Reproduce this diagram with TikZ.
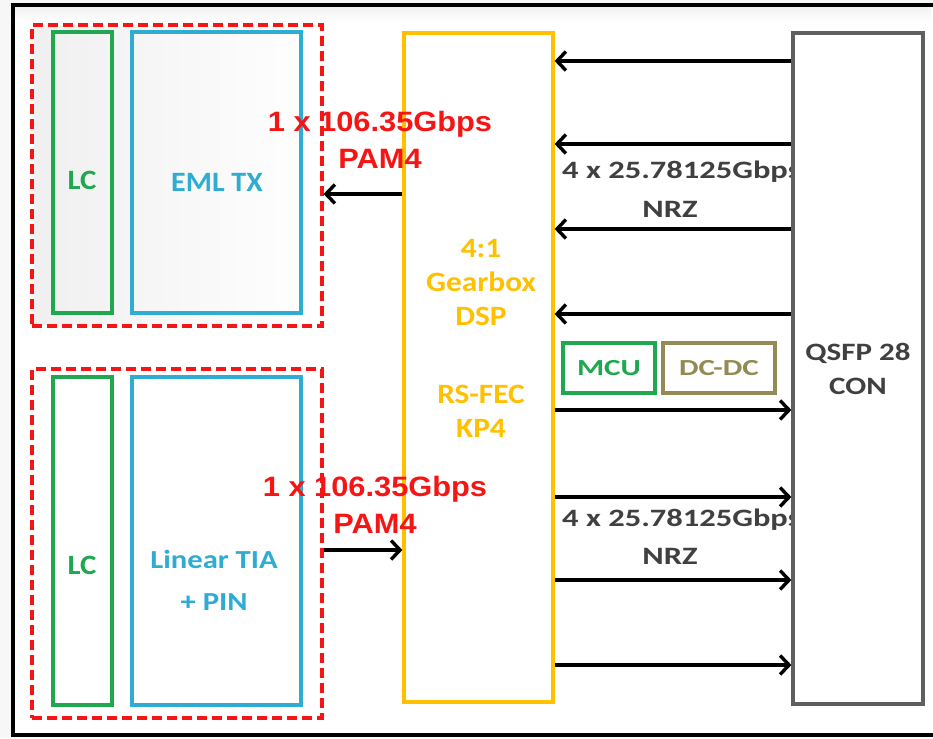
\documentclass[tikz,border=0pt]{standalone}
\usepackage{graphicx}
\usepackage{fontspec}
\setmainfont{Carlito}
\newfontfamily\pamfont{Liberation Sans}
\usetikzlibrary{arrows.meta, fit, positioning}

\definecolor{lcgreen}{HTML}{1FA84F}
\definecolor{emlblue}{HTML}{2FACD2}
\definecolor{dspgold}{HTML}{FFC000}
\definecolor{pamred}{HTML}{F51515}
\definecolor{rategray}{HTML}{404040}
\definecolor{congray}{HTML}{5F5F5F}
\definecolor{dcolive}{HTML}{948A54}

% horizontal stretch of a text line
\newcommand\hstr[2][1.2]{\scalebox{#1}[1]{#2}}

\begin{document}
\begin{tikzpicture}[x=1pt, y=-1pt,
        % boxes
        blk/.style={draw, line width=3.2pt, inner sep=0pt},
        grp/.style={draw=pamred, line width=3.2pt, dash pattern=on 10pt off 5pt, inner sep=0pt},
        % texts
        lbl/.style={inner sep=0pt, font=\bfseries\fontsize{28}{42}\selectfont, align=center},
        dsptext/.style={lbl, text=dspgold, font=\bfseries\fontsize{28}{34}\selectfont},
        pamtext/.style={lbl, text=pamred, font=\pamfont\bfseries\fontsize{28}{37}\selectfont},
        ratetext/.style={lbl, text=rategray, font=\bfseries\fontsize{25}{36}\selectfont},
        % connectors
        arr/.style={line width=3.4pt, -{Straight Barb[length=9pt, width=19pt]}}]

        \useasboundingbox (0,0) rectangle (933,738);
        \fill[gray!6] (0,0) rectangle (933,738);
        \draw[line width=3.4pt, fill=white] (13,5) rectangle (936,735);
        \shade[top color=gray!10, bottom color=white] (15,8) rectangle (931,22);
        \shade[left color=gray!12, right color=white] (34,27) rectangle (320,324);

        % transmitter side
        \node[grp, fit={(32,25) (322,326)}] (txgrp) {};
        \node[blk, draw=lcgreen, fit={(53,32) (112,313)}] (lc1) {};
        \node[blk, draw=emlblue, fit={(132,32) (301,313)}] (eml) {};
        \node[lbl, text=lcgreen] (lc1txt) at (82,180) {\hstr[1.1]{LC}};
        \node[lbl, text=emlblue] (emltxt) at (217,182) {\hstr[1.07]{EML TX}};

        % receiver side
        \node[grp, fit={(32,369) (322,718)}] (rxgrp) {};
        \node[blk, draw=lcgreen, fit={(53,377) (112,705)}] (lc2) {};
        \node[blk, draw=emlblue, fit={(132,377) (301,705)}] (tia) {};
        \node[lbl, text=lcgreen] (lc2txt) at (82,565) {\hstr[1.1]{LC}};
        \node[lbl, text=emlblue, font=\bfseries\fontsize{26}{42}\selectfont] (tiatxt) at (214,580)
            {\hstr[1.18]{Linear TIA}\\\hstr[1.18]{+ PIN}};

        % gearbox
        \node[blk, draw=dspgold, fit={(404,33) (553,702)}] (dsp) {};
        \node[dsptext] (gbtxt) at (481,283) {\hstr[1.12]{4:1}\\\hstr[1.12]{Gearbox}\\\hstr[1.12]{DSP}};
        \node[dsptext] (fectxt) at (481,411) {\hstr[1.12]{RS-FEC}\\\hstr[1.12]{KP4}};

        % lane rates
        \node[pamtext] (pam1) at (380,140) {\hstr[1.1]{1 x 106.35Gbps}\\\hstr[1.1]{PAM4}};
        \node[pamtext] (pam2) at (375,505) {\hstr[1.1]{1 x 106.35Gbps}\\\hstr[1.1]{PAM4}};
        \node[ratetext, anchor=west] (rate1) at (562,172) {\hstr[1.3]{4 x 25.78125Gbps}};
        \node[ratetext] (nrz1) at (670,209) {\hstr[1.3]{NRZ}};
        \node[ratetext, anchor=west] (rate2) at (562,520) {\hstr[1.3]{4 x 25.78125Gbps}};
        \node[ratetext] (nrz2) at (670,556) {\hstr[1.3]{NRZ}};

        % small parts
        \node[blk, draw=lcgreen, fit={(563,343) (655,393)}] (mcu) {};
        \node[blk, draw=dcolive, fit={(663,343) (775,393)}] (dcdc) {};
        \node[lbl, text=lcgreen, font=\bfseries\fontsize{23}{28}\selectfont] (mcutxt) at (mcu) {\hstr[1.35]{MCU}};
        \node[lbl, text=dcolive, font=\bfseries\fontsize{23}{28}\selectfont] (dcdctxt) at (dcdc) {\hstr[1.35]{DC-DC}};

        % connector
        \node[blk, draw=congray, fill=white, fit={(793,33) (923,704)}] (qsfp) {};
        \node[lbl, text=rategray, font=\bfseries\fontsize{25}{34}\selectfont] (qsfptxt) at (858,369)
            {\hstr[1.24]{QSFP 28}\\\hstr[1.24]{CON}};

        % lanes
        \foreach \y in {61,144,229,314}
            \draw[arr] (qsfp.west |- 0,\y) -- (dsp.east |- 0,\y);
        \foreach \y in {410,497,580,665}
            \draw[arr] (dsp.east |- 0,\y) -- (qsfp.west |- 0,\y);
        \draw[arr] (dsp.west |- 0,194) -- (txgrp.east |- 0,194);
        \draw[arr] (rxgrp.east |- 0,550) -- (dsp.west |- 0,550);

\end{tikzpicture}
\end{document}
